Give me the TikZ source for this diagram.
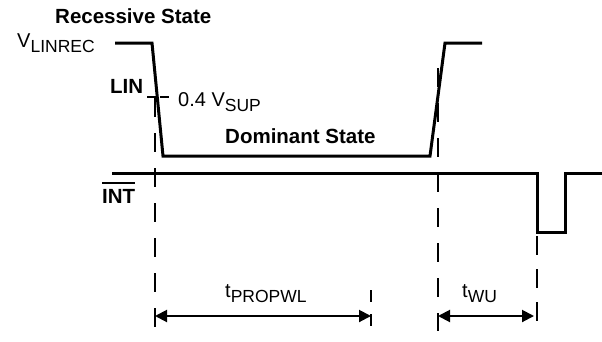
\documentclass[tikz,border=0pt]{standalone}
\usepackage{fontspec}
\setmainfont{Liberation Sans}
\usetikzlibrary{arrows.meta}
\newcommand{\subtxt}[1]{\raisebox{-5pt}{\fontsize{17.5}{18}\selectfont #1}}
\begin{document}
\begin{tikzpicture}[x=1pt,y=-1pt,
  wave/.style={line width=3pt},
  guide/.style={line width=2pt,dash pattern=on 19pt off 16pt},
  dimarrow/.style={line width=2pt,{Triangle[length=12pt,width=12pt]}-{Triangle[length=12pt,width=12pt]}},
  boldlbl/.style={inner sep=0pt,font=\bfseries\fontsize{20.5}{24}\selectfont},
  lbl/.style={inner sep=0pt,font=\fontsize{20}{24}\selectfont}]
\useasboundingbox (0,0) rectangle (602,341);
% LIN waveform
\draw[wave] (115,43) -- (152,43) -- (163,156) -- (430,156) -- (445,43) -- (482,43);
% INT waveform
\draw[wave] (112,173) -- (537,173) -- (537,232) -- (565,232) -- (565,173) -- (602,173);
% guide lines
\coordinate (g1t) at (155,98);
\coordinate (g1b) at (155,331);
\coordinate (g2t) at (438,68);
\coordinate (g2b) at (438,331);
\coordinate (g3t) at (537,236);
\coordinate (g3b) at (537,331);
\coordinate (g4t) at (371,290);
\coordinate (g4b) at (371,331);
\draw[guide] (g1t) -- (g1b);
\draw[guide] (g2t) -- (g2b);
\draw[guide,dash pattern=on 19pt off 14pt] (g3t) -- (g3b);
\draw[guide,dash pattern=on 12pt off 12pt] (g4t) -- (g4b);
% threshold tick
\coordinate (th1) at (147,97);
\coordinate (th2) at (170,97);
\draw[line width=2pt,dash pattern=on 9pt off 4pt] (th1) -- (th2);
% dimension arrows
\coordinate (a1l) at (155,316);
\coordinate (a1r) at (371,316);
\coordinate (a2l) at (438,316);
\coordinate (a2r) at (534,316);
\draw[dimarrow] (a1l) -- (a1r);
\draw[dimarrow] (a2l) -- (a2r);
% labels
\node[boldlbl,anchor=base west] (rec) at (55,23) {Recessive State};
\node[lbl,anchor=base west] (vlinrec) at (17,47) {V\subtxt{LINREC}};
\node[boldlbl,anchor=base west] (lin) at (110,93) {LIN};
\node[lbl,anchor=base west] (vsup) at (178,106) {0.4 V\subtxt{SUP}};
\node[boldlbl,anchor=base west] (dom) at (225,143) {Dominant State};
\node[boldlbl,anchor=base west] (int) at (102,203) {INT};
\draw[line width=2pt] ([yshift=6pt]int.north west) -- ([yshift=6pt]int.north east);
\node[lbl,anchor=base west] (tprop) at (225,297) {t\subtxt{PROPWL}};
\node[lbl,anchor=base west] (twu) at (462,297) {t\subtxt{WU}};
\end{tikzpicture}
\end{document}
